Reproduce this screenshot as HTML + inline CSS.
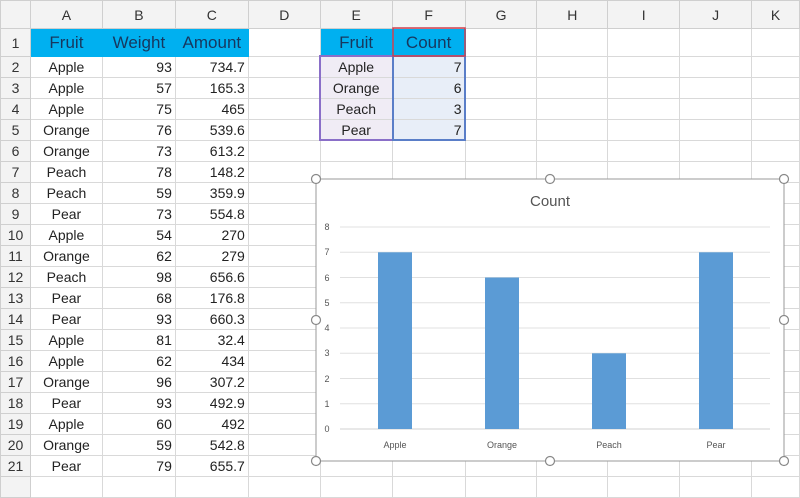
<!DOCTYPE html><html><head><style>
body{margin:0;width:800px;height:486px;overflow:hidden;background:#fff;font-family:"Liberation Sans",sans-serif;position:relative}
table{border-collapse:collapse;table-layout:fixed;position:absolute;left:0;top:0}
td{border:1px solid #d9d9d9;height:20px;padding:0 3px;font-size:14px;color:#222;white-space:nowrap;overflow:hidden}
tr.h td{height:27px;background:#f3f3f3;text-align:center;color:#333;font-size:14px;border-color:#cfcfcf}
tr.r1 td{height:27px}
td.n{background:#f3f3f3;text-align:center;color:#333;border-color:#cfcfcf;padding:0;font-size:14px}
.c{text-align:center}.r{text-align:right}
.hd{background:#00b0f0;color:#17375e;font-size:17px;text-align:center;border-color:#00b0f0}
.e{background:#f0ecf5}.f{background:#e8eef8}
</style></head><body>
<table>
<colgroup><col style="width:30px"><col style="width:72px"><col style="width:73px"><col style="width:73px"><col style="width:72px"><col style="width:72px"><col style="width:73px"><col style="width:72px"><col style="width:71px"><col style="width:72px"><col style="width:72px"><col style="width:48px"></colgroup>
<tr class="h"><td></td><td>A</td><td>B</td><td>C</td><td>D</td><td>E</td><td>F</td><td>G</td><td>H</td><td>I</td><td>J</td><td>K</td></tr>
<tr class="r1"><td class="n">1</td><td class="hd">Fruit</td><td class="hd">Weight</td><td class="hd">Amount</td><td></td><td class="hd">Fruit</td><td class="hd">Count</td><td></td><td></td><td></td><td></td><td></td></tr>
<tr><td class="n">2</td><td class="c">Apple</td><td class="r">93</td><td class="r">734.7</td><td></td><td class="c e">Apple</td><td class="r f">7</td><td></td><td></td><td></td><td></td><td></td></tr>
<tr><td class="n">3</td><td class="c">Apple</td><td class="r">57</td><td class="r">165.3</td><td></td><td class="c e">Orange</td><td class="r f">6</td><td></td><td></td><td></td><td></td><td></td></tr>
<tr><td class="n">4</td><td class="c">Apple</td><td class="r">75</td><td class="r">465</td><td></td><td class="c e">Peach</td><td class="r f">3</td><td></td><td></td><td></td><td></td><td></td></tr>
<tr><td class="n">5</td><td class="c">Orange</td><td class="r">76</td><td class="r">539.6</td><td></td><td class="c e">Pear</td><td class="r f">7</td><td></td><td></td><td></td><td></td><td></td></tr>
<tr><td class="n">6</td><td class="c">Orange</td><td class="r">73</td><td class="r">613.2</td><td></td><td></td><td></td><td></td><td></td><td></td><td></td><td></td></tr>
<tr><td class="n">7</td><td class="c">Peach</td><td class="r">78</td><td class="r">148.2</td><td></td><td></td><td></td><td></td><td></td><td></td><td></td><td></td></tr>
<tr><td class="n">8</td><td class="c">Peach</td><td class="r">59</td><td class="r">359.9</td><td></td><td></td><td></td><td></td><td></td><td></td><td></td><td></td></tr>
<tr><td class="n">9</td><td class="c">Pear</td><td class="r">73</td><td class="r">554.8</td><td></td><td></td><td></td><td></td><td></td><td></td><td></td><td></td></tr>
<tr><td class="n">10</td><td class="c">Apple</td><td class="r">54</td><td class="r">270</td><td></td><td></td><td></td><td></td><td></td><td></td><td></td><td></td></tr>
<tr><td class="n">11</td><td class="c">Orange</td><td class="r">62</td><td class="r">279</td><td></td><td></td><td></td><td></td><td></td><td></td><td></td><td></td></tr>
<tr><td class="n">12</td><td class="c">Peach</td><td class="r">98</td><td class="r">656.6</td><td></td><td></td><td></td><td></td><td></td><td></td><td></td><td></td></tr>
<tr><td class="n">13</td><td class="c">Pear</td><td class="r">68</td><td class="r">176.8</td><td></td><td></td><td></td><td></td><td></td><td></td><td></td><td></td></tr>
<tr><td class="n">14</td><td class="c">Pear</td><td class="r">93</td><td class="r">660.3</td><td></td><td></td><td></td><td></td><td></td><td></td><td></td><td></td></tr>
<tr><td class="n">15</td><td class="c">Apple</td><td class="r">81</td><td class="r">32.4</td><td></td><td></td><td></td><td></td><td></td><td></td><td></td><td></td></tr>
<tr><td class="n">16</td><td class="c">Apple</td><td class="r">62</td><td class="r">434</td><td></td><td></td><td></td><td></td><td></td><td></td><td></td><td></td></tr>
<tr><td class="n">17</td><td class="c">Orange</td><td class="r">96</td><td class="r">307.2</td><td></td><td></td><td></td><td></td><td></td><td></td><td></td><td></td></tr>
<tr><td class="n">18</td><td class="c">Pear</td><td class="r">93</td><td class="r">492.9</td><td></td><td></td><td></td><td></td><td></td><td></td><td></td><td></td></tr>
<tr><td class="n">19</td><td class="c">Apple</td><td class="r">60</td><td class="r">492</td><td></td><td></td><td></td><td></td><td></td><td></td><td></td><td></td></tr>
<tr><td class="n">20</td><td class="c">Orange</td><td class="r">59</td><td class="r">542.8</td><td></td><td></td><td></td><td></td><td></td><td></td><td></td><td></td></tr>
<tr><td class="n">21</td><td class="c">Pear</td><td class="r">79</td><td class="r">655.7</td><td></td><td></td><td></td><td></td><td></td><td></td><td></td><td></td></tr>
<tr><td class="n"></td><td></td><td></td><td></td><td></td><td></td><td></td><td></td><td></td><td></td><td></td><td></td></tr>
</table>
<svg width="800" height="486" style="position:absolute;left:0;top:0" font-family="Liberation Sans, sans-serif">
<rect x="320" y="56" width="73" height="84" fill="none" stroke="#8a6fc8" stroke-width="2"/>
<rect x="393" y="56" width="72" height="84" fill="none" stroke="#5a7ec8" stroke-width="2"/>
<rect x="393" y="28" width="72" height="28" fill="none" stroke="#d04050" stroke-width="1.5"/>
<rect x="316" y="179" width="468" height="282" fill="#fff" stroke="#9a9a9a"/>
<text x="550" y="206" text-anchor="middle" font-size="15" fill="#555">Count</text>
<g stroke="#e0e0e0" stroke-width="1">
<line x1="340" x2="770" y1="227" y2="227"/><line x1="340" x2="770" y1="252.3" y2="252.3"/><line x1="340" x2="770" y1="277.5" y2="277.5"/><line x1="340" x2="770" y1="302.8" y2="302.8"/><line x1="340" x2="770" y1="328" y2="328"/><line x1="340" x2="770" y1="353.3" y2="353.3"/><line x1="340" x2="770" y1="378.5" y2="378.5"/><line x1="340" x2="770" y1="403.8" y2="403.8"/><line x1="340" x2="770" y1="429" y2="429" stroke="#d0d0d0"/>
</g>
<g font-size="9" fill="#555" text-anchor="middle">
<text x="327" y="230">8</text><text x="327" y="255">7</text><text x="327" y="281">6</text><text x="327" y="306">5</text><text x="327" y="331">4</text><text x="327" y="356">3</text><text x="327" y="382">2</text><text x="327" y="407">1</text><text x="327" y="432">0</text>
<text x="395" y="448">Apple</text><text x="502" y="448">Orange</text><text x="609" y="448">Peach</text><text x="716" y="448">Pear</text>
</g>
<g fill="#5b9bd5">
<rect x="378" y="252.3" width="34" height="176.7"/><rect x="485" y="277.5" width="34" height="151.5"/><rect x="592" y="353.3" width="34" height="75.7"/><rect x="699" y="252.3" width="34" height="176.7"/>
</g>
<g fill="#fff" stroke="#888" stroke-width="1.2">
<circle cx="316" cy="179" r="4.5"/><circle cx="550" cy="179" r="4.5"/><circle cx="784" cy="179" r="4.5"/><circle cx="316" cy="320" r="4.5"/><circle cx="784" cy="320" r="4.5"/><circle cx="316" cy="461" r="4.5"/><circle cx="550" cy="461" r="4.5"/><circle cx="784" cy="461" r="4.5"/>
</g>
</svg>
</body></html>
